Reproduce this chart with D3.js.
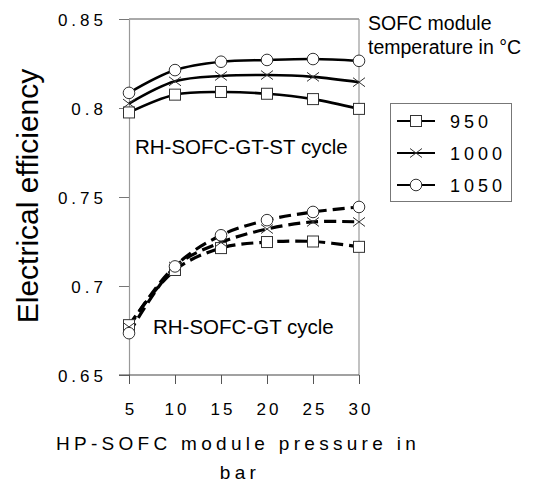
<!DOCTYPE html>
<html>
<head>
<meta charset="utf-8">
<script src="https://cdn.jsdelivr.net/npm/d3@7/dist/d3.min.js"></script>
<style>
  html, body { margin: 0; padding: 0; background: #fff; }
  svg { display: block; font-family: "Liberation Sans", Arial, sans-serif; }
</style>
</head>
<body>
<div id="chart"></div>
<script>
// ---- data ----
const pressures = [5, 10, 15, 20, 25, 30];
const temperatures = ["950", "1000", "1050"];
const markers = ["square", "cross", "circle"];
const stCycle950  = [0.7975, 0.8075, 0.809, 0.808, 0.805, 0.7995];
const stCycle1000 = [0.8025, 0.815, 0.818, 0.8185, 0.8175, 0.8145];
const stCycle1050 = [0.8085, 0.8213, 0.826, 0.827, 0.8275, 0.8265];
const gtCycle950  = [0.678, 0.709, 0.7213, 0.7247, 0.725, 0.722];
const gtCycle1000 = [0.677, 0.711, 0.7245, 0.732, 0.736, 0.736];
const gtCycle1050 = [0.6735, 0.711, 0.7285, 0.737, 0.7416, 0.7444];
const yTicks = [0.65, 0.7, 0.75, 0.8, 0.85];
const yTickLabels = ["0.65", "0.7", "0.75", "0.8", "0.85"];
const xTickLabels = ["5", "10", "15", "20", "25", "30"];

const W = 538, H = 485;
const svg = d3.select("#chart").append("svg").attr("width", W).attr("height", H);

const x = d3.scaleLinear().domain([5, 30]).range([129, 359]);
const y = d3.scaleLinear().domain([0.65, 0.85]).range([375, 19]);

// frame: top and right borders
svg.append("line").attr("x1", x(5)).attr("x2", x(30)).attr("y1", y(0.85)).attr("y2", y(0.85))
  .attr("stroke", "#555").attr("stroke-width", 1);
svg.append("line").attr("x1", x(30)).attr("x2", x(30)).attr("y1", y(0.85)).attr("y2", y(0.65))
  .attr("stroke", "#999").attr("stroke-width", 1.2);

// y axis
const yAxis = svg.append("g").attr("transform", `translate(${x(5)},0)`)
  .call(d3.axisLeft(y).tickValues(yTicks).tickSize(10).tickSizeOuter(0)
    .tickFormat((d, i) => yTickLabels[i]));
yAxis.select(".domain").attr("stroke", "#999").attr("stroke-width", 1.2);
yAxis.selectAll(".tick line").attr("stroke", "#777");
yAxis.selectAll(".tick text").attr("x", -22).attr("dy", "0.36em")
  .attr("fill", "#000").style("font-size", "17px").style("letter-spacing", "4px")
  .attr("font-family", "Liberation Sans, Arial, sans-serif");

// x axis
const xAxis = svg.append("g").attr("transform", `translate(0,${y(0.65)})`)
  .call(d3.axisBottom(x).tickValues(pressures).tickSize(9).tickSizeOuter(0)
    .tickFormat((d, i) => xTickLabels[i]));
xAxis.select(".domain").attr("stroke", "#444").attr("stroke-width", 1.2)
  .attr("d", `M${x(5) - 10},0H${x(30)}`);
xAxis.selectAll(".tick line").attr("stroke", "#555");
xAxis.selectAll(".tick text").attr("y", 40).attr("dy", 0).attr("dx", 1.5)
  .attr("fill", "#000").style("font-size", "17px").style("letter-spacing", "3px")
  .attr("font-family", "Liberation Sans, Arial, sans-serif");

// axis titles
svg.append("text").attr("transform", "translate(38,196) rotate(-90)")
  .attr("text-anchor", "middle").style("font-size", "30px").text("Electrical efficiency");
const xt = svg.append("text").attr("text-anchor", "middle")
  .style("font-size", "19px").style("letter-spacing", "4.3px");
xt.append("tspan").attr("x", 238).attr("y", 450).text("HP-SOFC module pressure in");
xt.append("tspan").attr("x", 240).attr("y", 479).text("bar");

// annotations
svg.append("text").attr("x", 135).attr("y", 154).style("font-size", "20.5px").text("RH-SOFC-GT-ST cycle");
svg.append("text").attr("x", 153).attr("y", 334).style("font-size", "20.5px").text("RH-SOFC-GT cycle");
const tt = svg.append("text").style("font-size", "19.5px");
tt.append("tspan").attr("x", 368).attr("y", 30).text("SOFC module");
tt.append("tspan").attr("x", 368).attr("y", 54).text("temperature in °C");

// series
const stSeries = [stCycle950, stCycle1000, stCycle1050];
const gtSeries = [gtCycle950, gtCycle1000, gtCycle1050];
const line = d3.line().x((d, i) => x(pressures[i])).y(d => y(d)).curve(d3.curveCatmullRom.alpha(0.5));

function drawMarker(g, type, cx, cy) {
  if (type === "square") {
    g.append("rect").attr("x", cx - 5.5).attr("y", cy - 5.5).attr("width", 11).attr("height", 11)
      .attr("fill", "#fff").attr("stroke", "#333").attr("stroke-width", 1);
  } else if (type === "circle") {
    g.append("circle").attr("cx", cx).attr("cy", cy).attr("r", 5.8)
      .attr("fill", "#fff").attr("stroke", "#333").attr("stroke-width", 1);
  } else {
    const s = 6;
    g.append("path").attr("d", `M${cx - s},${cy - s * 0.75}L${cx + s},${cy + s * 0.75}M${cx - s},${cy + s * 0.75}L${cx + s},${cy - s * 0.75}`)
      .attr("stroke", "#333").attr("stroke-width", 1).attr("fill", "none");
  }
}

const linesG = svg.append("g");
const markG = svg.append("g");
stSeries.forEach((vals, k) => {
  linesG.append("path").attr("d", line(vals)).attr("fill", "none")
    .attr("stroke", "#000").attr("stroke-width", 2.6);
});
gtSeries.forEach((vals, k) => {
  linesG.append("path").attr("d", line(vals)).attr("fill", "none")
    .attr("stroke", "#000").attr("stroke-width", 3.2).attr("stroke-dasharray", "12,6");
});
[...stSeries, ...gtSeries].forEach((vals, k) => {
  vals.forEach((v, i) => drawMarker(markG, markers[k % 3], x(pressures[i]), y(v)));
});

// legend
const lg = svg.append("g");
lg.append("rect").attr("x", 390.5).attr("y", 103.5).attr("width", 121).attr("height", 98)
  .attr("fill", "#fff").attr("stroke", "#777").attr("stroke-width", 1);
temperatures.forEach((t, k) => {
  const cy = 121 + k * 32;
  lg.append("line").attr("x1", 397).attr("x2", 435).attr("y1", cy).attr("y2", cy)
    .attr("stroke", "#000").attr("stroke-width", 2);
  drawMarker(lg, markers[k], 416, cy);
  lg.append("text").attr("x", 450).attr("y", cy + 6.5).style("font-size", "18px")
    .style("letter-spacing", "4px").text(t);
});
</script>
</body>
</html>
